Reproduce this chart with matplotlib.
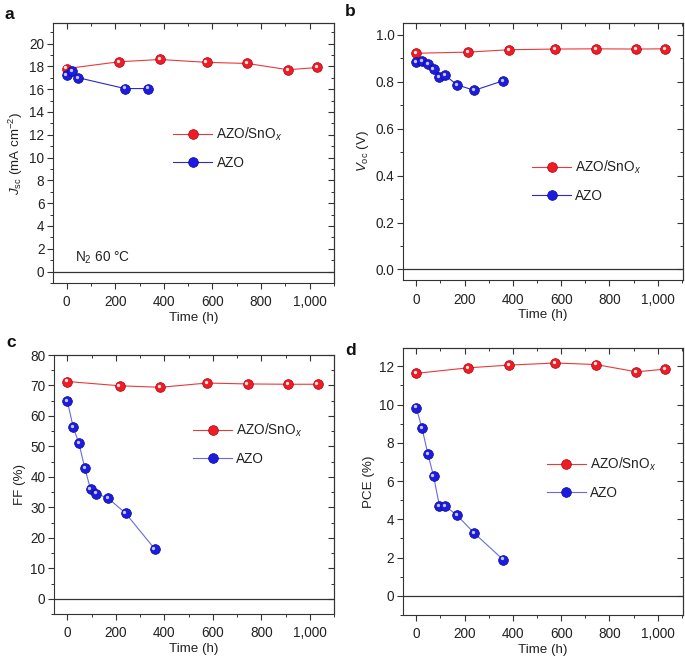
import matplotlib
matplotlib.use("Agg")
import matplotlib.pyplot as plt
from matplotlib.ticker import MultipleLocator, FuncFormatter
from matplotlib.transforms import offset_copy

plt.rcParams['font.family'] = ['Liberation Sans', 'DejaVu Sans']
plt.rcParams['mathtext.fontset'] = 'custom'
plt.rcParams['mathtext.rm'] = 'Liberation Sans'
plt.rcParams['mathtext.it'] = 'Liberation Sans:italic'
plt.rcParams['font.size'] = 9.5
plt.rcParams['text.color'] = '#222222'
plt.rcParams['axes.labelcolor'] = '#222222'

# ---- data ----
t_red = [0, 216, 384, 576, 744, 912, 1032]
t_blue = [0, 24, 48, 72, 96, 120, 168, 240, 360]
t_blue_jsc = [0, 24, 48, 240, 336]

jsc_red = [17.8, 18.4, 18.6, 18.35, 18.25, 17.7, 17.9]
jsc_blue = [17.2, 17.55, 17.0, 16.05, 16.05]

voc_red = [0.921, 0.926, 0.936, 0.939, 0.940, 0.939, 0.940]
voc_blue = [0.882, 0.888, 0.875, 0.854, 0.818, 0.827, 0.787, 0.763, 0.804]

ff_red = [71.3, 69.9, 69.4, 70.8, 70.5, 70.4, 70.4]
ff_blue = [64.9, 56.4, 51.0, 42.9, 35.9, 34.5, 33.0, 28.1, 16.4]

pce_red = [11.63, 11.92, 12.06, 12.17, 12.09, 11.71, 11.85]
pce_blue = [9.84, 8.75, 7.42, 6.24, 4.70, 4.69, 4.22, 3.28, 1.89]

label_red = 'AZO/SnO$_{\\mathit{x}}$'
label_blue = 'AZO'

fig = plt.figure(figsize=(6.85, 6.59), dpi=100)

RED_FACE = '#ee1c24'
RED_EDGE = '#b00010'
RED_LINE = '#e83a3a'
BLUE_FACE = '#1c1ce0'
BLUE_EDGE = '#0a0a90'

panels = [
    dict(pos=[0.0774, 0.5706, 0.410, 0.3945], ylim=(-1.0, 21.8), xlim=(-56, 1100),
         major=2, minor=1, fmt=lambda v, p: f"{v:.0f}",
         ylabel='$\\mathit{J}_{\\rm sc}$ (mA cm$^{-2}$)',
         red=(t_red, jsc_red), blue=(t_blue_jsc, jsc_blue),
         blue_line='#2a2ad0', leg=(0.427, 0.519), letter='a', lpos=(0.007, 0.971)),
    dict(pos=[0.5883, 0.5751, 0.4088, 0.390], ylim=(-0.045, 1.05), xlim=(-55, 1105),
         major=0.2, minor=0.1, fmt=lambda v, p: f"{v:.1f}",
         ylabel='$\\mathit{V}_{\\rm oc}$ (V)',
         red=(t_red, voc_red), blue=(t_blue, voc_blue),
         blue_line='#2a2ad0', leg=(0.46, 0.385), letter='b', lpos=(0.5036, 0.976)),
    dict(pos=[0.0788, 0.0683, 0.4088, 0.393], ylim=(-5, 80), xlim=(-55, 1100),
         major=10, minor=5, fmt=lambda v, p: f"{v:.0f}",
         ylabel='FF (%)',
         red=(t_red, ff_red), blue=(t_blue, ff_blue),
         blue_line='#6a6ae0', leg=(0.496, 0.658), letter='c', lpos=(0.0097, 0.473)),
    dict(pos=[0.5883, 0.0668, 0.4088, 0.405], ylim=(-1.0, 12.95), xlim=(-55, 1105),
         major=2, minor=1, fmt=lambda v, p: f"{v:.0f}",
         ylabel='PCE (%)',
         red=(t_red, pce_red), blue=(t_blue, pce_blue),
         blue_line='#6a6ae0', leg=(0.513, 0.513), letter='d', lpos=(0.5036, 0.461)),
]

xfmt = FuncFormatter(lambda v, p: f"{int(v):,}")
TICKFS = 9.8
MAJL, MINL = 4.0, 2.2

for P in panels:
    ax = fig.add_axes(P['pos'])
    ax.set_xlim(*P['xlim'])
    ax.set_ylim(*P['ylim'])
    for s in ax.spines.values():
        s.set_color('#333333')
        s.set_linewidth(0.8)
    ax.axhline(0, color='#333333', lw=0.9, zorder=1)

    hl = offset_copy(ax.transData, fig=fig, x=-1.2, y=1.2, units='dots')
    handles = []
    for (tx, ty), face, edge, lcol, lab in [
        (P['red'], RED_FACE, RED_EDGE, RED_LINE, label_red),
        (P['blue'], BLUE_FACE, BLUE_EDGE, P['blue_line'], label_blue),
    ]:
        ax.plot(tx, ty, '-', color=lcol, lw=0.8, zorder=2)
        ax.plot(tx, ty, 'o', ms=7.0, mfc=face, mec=edge, mew=0.5, zorder=3)
        ax.plot(tx, ty, 'o', ms=2.4, mfc='#ffe8e8' if face == RED_FACE else '#c8c8ff',
                mec='none', zorder=4, transform=hl)
        lh, = ax.plot([], [], '-', color=lcol, lw=0.8, marker='o', ms=7.0,
                      mfc=face, mec=edge, mew=0.5)
        handles.append((lh, lab))

    ax.legend([h for h, _ in handles], [l for _, l in handles],
              loc='center left', bbox_to_anchor=P['leg'], frameon=False,
              borderpad=0, borderaxespad=0, handlelength=2.9, handletextpad=0.3,
              labelspacing=0.95, fontsize=9.8)

    ax.xaxis.set_major_locator(MultipleLocator(200))
    ax.xaxis.set_minor_locator(MultipleLocator(100))
    ax.xaxis.set_major_formatter(xfmt)
    ax.yaxis.set_major_locator(MultipleLocator(P['major']))
    ax.yaxis.set_minor_locator(MultipleLocator(P['minor']))
    ax.yaxis.set_major_formatter(FuncFormatter(P['fmt']))
    ax.tick_params(which='major', direction='out', length=MAJL, width=0.8,
                   color='#333333', labelsize=TICKFS, labelcolor='#222222')
    ax.tick_params(axis='x', which='major', pad=5.0)
    ax.tick_params(axis='y', which='major', pad=2.2)
    ax.tick_params(which='minor', direction='out', length=MINL, width=0.7, color='#333333')

    # mirrored ticks on top / right, pointing inward
    sx = ax.secondary_xaxis('top')
    sx.xaxis.set_major_locator(MultipleLocator(200))
    sx.xaxis.set_minor_locator(MultipleLocator(100))
    sx.tick_params(which='major', direction='in', length=MAJL, width=0.8, color='#333333',
                   labeltop=False)
    sx.tick_params(which='minor', direction='in', length=MINL, width=0.7, color='#333333')
    sx.spines['top'].set_color('#333333')
    sx.spines['top'].set_linewidth(0.8)
    sy = ax.secondary_yaxis('right')
    sy.yaxis.set_major_locator(MultipleLocator(P['major']))
    sy.yaxis.set_minor_locator(MultipleLocator(P['minor']))
    sy.tick_params(which='major', direction='in', length=MAJL, width=0.8, color='#333333',
                   labelright=False)
    sy.tick_params(which='minor', direction='in', length=MINL, width=0.7, color='#333333')
    sy.spines['right'].set_color('#333333')
    sy.spines['right'].set_linewidth(0.8)

    ax.set_xlabel('Time (h)', fontsize=9.6, labelpad=1.5)
    ax.set_ylabel(P['ylabel'], fontsize=9.6, labelpad=3)

    fig.text(P['lpos'][0], P['lpos'][1], P['letter'], fontsize=12.5, fontweight='bold',
             color='#111111', ha='left', va='baseline')

    if P['letter'] == 'a':
        ax.text(0.078, 0.096, 'N$_2$ 60 °C', transform=ax.transAxes, fontsize=9.8,
                ha='left', va='center')

fig.savefig('out.png', dpi=100)
